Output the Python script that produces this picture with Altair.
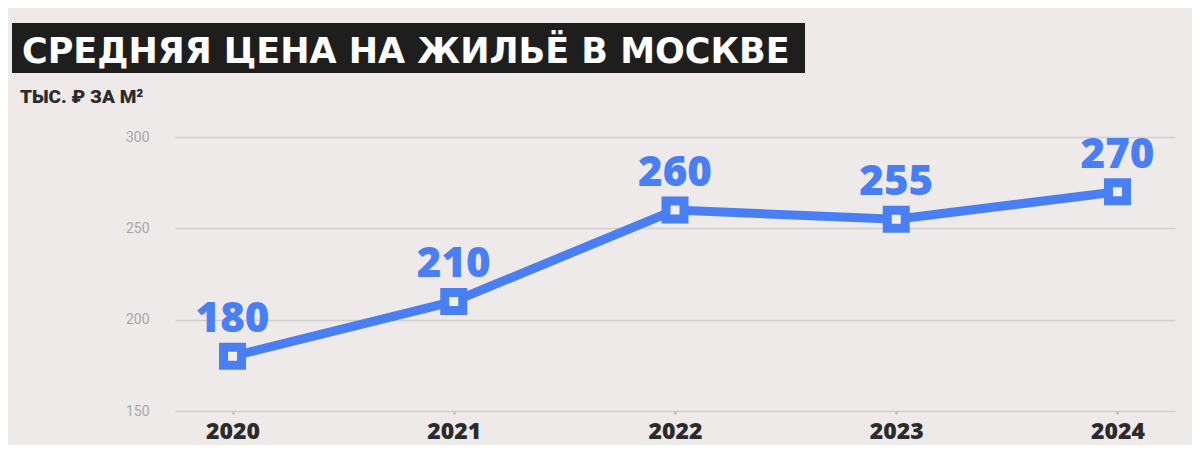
import altair as alt
import pandas as pd

years = ["2020", "2021", "2022", "2023", "2024"]
prices = [180, 210, 260, 255, 270]
y_ticks = [150, 200, 250, 300]
title_text = "СРЕДНЯЯ ЦЕНА НА ЖИЛЬЁ В МОСКВЕ"
subtitle_text = "ТЫС. ₽ ЗА М²"

df = pd.DataFrame({"year": years, "price": prices})

BLUE = "#4a7ff4"
BG = "#eeeaea"

x = alt.X("year:N", sort=years, title=None,
          scale=alt.Scale(type="point", padding=0.26),
          axis=alt.Axis(labelAngle=0, labelFont="Open Sans", labelFontWeight=800,
                        labelFontSize=23, labelColor="#2b2b2b", labelPadding=6,
                        ticks=True, tickSize=3, tickColor="#b8b4b4", tickWidth=2,
                        domain=False, grid=False))
y = alt.Y("price:Q", title=None,
          scale=alt.Scale(domain=[150, 300], nice=False, zero=False),
          axis=alt.Axis(values=y_ticks, labelFont="Roboto", labelFontSize=14,
                        labelColor="#a9a6a6", labelPadding=26, ticks=False,
                        domain=False, gridColor="#d3cfcf", gridWidth=1.5))

base = alt.Chart(df)

line = base.mark_line(color=BLUE, strokeWidth=9).encode(x=x, y=y)
points = base.mark_point(shape="square", size=324, filled=False, stroke=BLUE,
                         strokeWidth=9, fill="#f1eeee", fillOpacity=1, opacity=1).encode(x=x, y=y)
labels = base.mark_text(font="Open Sans", fontWeight=800, fontSize=42, color=BLUE,
                        baseline="alphabetic", dy=-24).encode(
    x=x, y=y, text=alt.Text("price:Q"))

tdf = pd.DataFrame({"t": [title_text]})
title_box = alt.Chart(tdf).mark_rect(color="#1e1e1e").encode(
    x=alt.value(-163), x2=alt.value(630), y=alt.value(-114), y2=alt.value(-64))
title = alt.Chart(tdf).mark_text(font="DejaVu Sans", fontWeight="bold", fontSize=35, color="white",
                                 align="left", baseline="alphabetic").encode(
    x=alt.value(-153), y=alt.value(-74), text="t:N")
sdf = pd.DataFrame({"t": [subtitle_text]})
subtitle = alt.Chart(sdf).mark_text(font="Roboto", fontWeight=900, fontSize=19,
                                    color="#2b2b2b", align="left", baseline="alphabetic").encode(
    x=alt.value(-155), y=alt.value(-34), text="t:N")

chart = alt.layer(line, points, labels, title_box, title, subtitle).properties(
    width=1000, height=274,
    autosize=alt.AutoSizeParams(type="none"),
    padding={"left": 167, "top": 129, "right": 17, "bottom": 34},
    background=BG,
).configure_view(stroke=None)

chart.save("out.html", embed_options={"renderer": "svg", "actions": False})
